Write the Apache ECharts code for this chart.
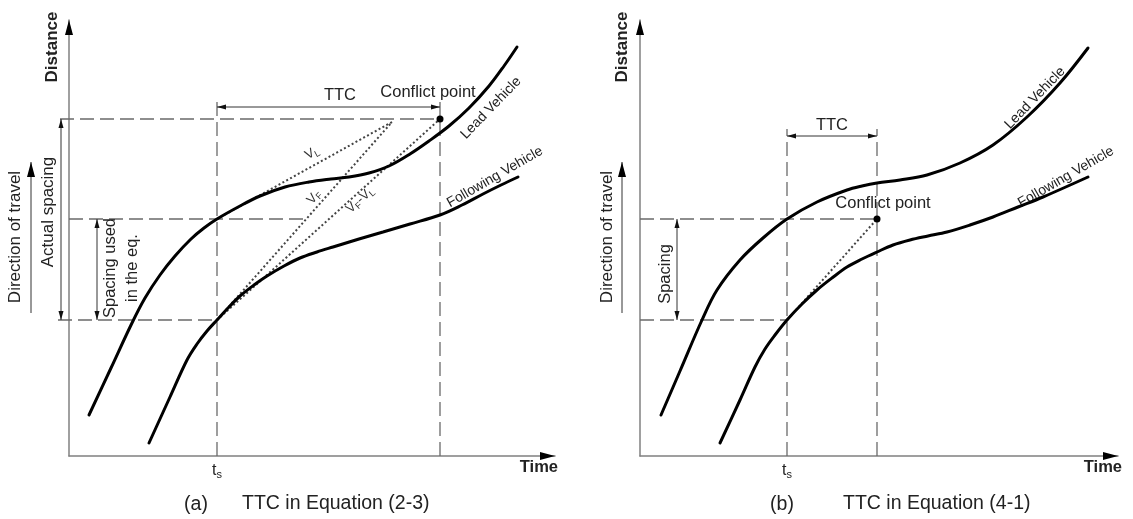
<!DOCTYPE html>
<html><head><meta charset="utf-8">
<script src="https://cdn.jsdelivr.net/npm/echarts@6/dist/echarts.min.js"></script>
<style>html,body{margin:0;padding:0;background:#fff}#c{width:1133px;height:519px}</style>
</head><body><div id="c"></div>
<script>
// ---------- values (arbitrary time / distance units) ----------
const xMaxA = 486, xMaxB = 478, yMax = 436;

// Panel (a)
const leadA = [[20,41],[42,88],[63,133],[76,158],[91,181],[106,200],[122,217],[135,228],[148,237],[171,250],[191,260],[216,269],[240,274],[262,277],[280,279],[300,283],[320,290],[341,302],[360,315],[380,330],[400,348],[420,370],[435,390],[448,409]];
const followA = [[80,13],[101,59],[118,96],[128,112],[138,125],[148,136],[160,149],[171,160],[185,171],[198,180],[215,190],[231,198],[248,204],[264,209],[290,217],[314,224],[341,232],[371,241],[393,251],[414,262],[432,271],[449,279]];
const tsA = [148];
const conflictA = [371, 337];
const dashedA = [[[-9,337],[371,337]], [[0,237],[234,237]], [[-11,136],[148,136]], [[148,0],[148,355]], [[371,0],[371,355]]];
const dottedA = [[[148,237],[323,334]], [[148,136],[323,334]], [[148,136],[371,337]]];
const dimsA = [[[148,349],[371,349]], [[-8,337],[-8,136]], [[28,237],[28,136]]];
const travelA = [[-38,143],[-38,294]];

// Panel (b)
const leadB = [[21,41],[40,85],[62,136],[77,166],[100,196],[123,218],[147,237],[177,254],[207,266],[222,270],[237,273],[260,276],[287,281],[320,293],[353,311],[387,339],[420,373],[448,408]];
const followB = [[80,13],[100,56],[115,89],[125,107],[135,121],[147,136],[162,152],[177,166],[192,178],[207,189],[222,197],[237,204],[253,211],[270,216],[288,220],[307,224],[330,231],[353,239],[378,249],[403,259],[448,279]];
const tsB = [147];
const conflictB = [237, 237];
const dashedB = [[[0,237],[237,237]], [[0,136],[147,136]], [[147,0],[147,327]], [[237,0],[237,327]]];
const dottedB = [[[147,136],[237,237]]];
const dimsB = [[[147,320],[237,320]], [[37,237],[37,136]]];
const travelB = [[-18,143],[-18,294]];

// text labels: [anchor, text]
const labelsA = {
  ttc: [[271,361], 'TTC'],
  conflict: [[359,364], 'Conflict point'],
  vl: [[243,303], '{v|V}{s|L}'],
  vf: [[245,259], '{v|V}{s|F}'],
  vfvl: [[291,256], '{v|V}{s|F}{v|-V}{s|L}'],
  lead: [[422,348], 'Lead Vehicle'],
  follow: [[426,279], 'Following Vehicle'],
  distance: [[-17,409], 'Distance'],
  time: [[489,-11], 'Time'],
  travel: [[-54,219], 'Direction of travel'],
  actual: [[-21,244], 'Actual spacing'],
  spacing: [[52,188], 'Spacing used\nin the eq.'],
  tag: [[127,-49], '(a)'],
  caption: [[173,-48], 'TTC in Equation (2-3)']
};
const labelsB = {
  ttc: [[192,331], 'TTC'],
  conflict: [[243,253], 'Conflict point'],
  lead: [[395,358], 'Lead Vehicle'],
  follow: [[426,279], 'Following Vehicle'],
  distance: [[-18,409], 'Distance'],
  time: [[482,-11], 'Time'],
  travel: [[-33,219], 'Direction of travel'],
  spacing: [[25,182], 'Spacing'],
  tag: [[142,-49], '(b)'],
  caption: [[203,-48], 'TTC in Equation (4-1)']
};

// ---------- drawing ----------
const FONT = '"Liberation Sans", Arial, Helvetica, sans-serif';
const styleOf = {
  ttc: {size:16.5}, conflict: {size:16.5}, vl:{rot:29}, vf:{rot:48}, vfvl:{rot:42},
  lead:{size:14, rot:46}, follow:{size:14, rot:30}, distance:{size:17, rot:90, bold:true},
  time:{size:16.5, bold:true, align:'right'}, travel:{size:17, rot:90}, actual:{size:17, rot:90},
  spacing:{size:16.5, rot:90, lh:22}, tag:{size:19.5}, caption:{size:19.5, align:'left'}
};
const vRich = {
  v: {fontSize: 13, fontFamily: FONT, fill: '#333'},
  s: {fontSize: 9, fontFamily: FONT, fill: '#333', padding: [7,0,0,0]}
};

function seg(api, p, q, style) {
  const a = api.coord(p), b = api.coord(q);
  return {type:'line', shape:{x1:a[0], y1:a[1], x2:b[0], y2:b[1]}, style: style};
}
function head(api, tip, from, len, half, fill) {
  const t = api.coord(tip), f = api.coord(from);
  const dx = t[0]-f[0], dy = t[1]-f[1], L = Math.hypot(dx, dy);
  const ux = dx/L, uy = dy/L;
  const bx = t[0]-ux*len, by = t[1]-uy*len;
  return {type:'polygon', shape:{points:[[t[0],t[1]],[bx-uy*half, by+ux*half],[bx+uy*half, by-ux*half]]}, style:{fill: fill}};
}
function txt(api, key, entry) {
  const o = styleOf[key] || {};
  const p = api.coord(entry[0]);
  const st = {
    text: entry[1], fill: '#222', fontSize: o.size || 13, fontFamily: FONT,
    fontWeight: o.bold ? 'bold' : 'normal', align: o.align || 'center', verticalAlign: 'middle'
  };
  if (o.lh) st.lineHeight = o.lh;
  if (entry[1].indexOf('{') === 0) st.rich = vRich;
  return {type:'text', x:p[0], y:p[1], rotation:(o.rot||0)*Math.PI/180, style: st};
}

function panel(dashed, dotted, dims, travel, conflict, labels, xMax) {
  return function (params, api) {
    const ch = [];
    dashed.forEach(s => ch.push(seg(api, s[0], s[1], {stroke:'#6a6a6a', lineWidth:1.3, lineDash:[14,6]})));
    dotted.forEach(s => ch.push(seg(api, s[0], s[1], {stroke:'#444', lineWidth:2, lineDash:[2,2.4]})));
    dims.forEach(s => {
      ch.push(seg(api, s[0], s[1], {stroke:'#333', lineWidth:1}));
      ch.push(head(api, s[0], s[1], 9, 2.5, '#111'));
      ch.push(head(api, s[1], s[0], 9, 2.5, '#111'));
    });
    ch.push(seg(api, travel[0], travel[1], {stroke:'#333', lineWidth:1}));
    ch.push(head(api, travel[1], travel[0], 15, 4, '#000'));
    // axis arrowheads
    ch.push(head(api, [xMax,0], [0,0], 15, 4, '#000'));
    ch.push(head(api, [0,yMax], [0,0], 15, 4, '#000'));
    const c = api.coord(conflict);
    ch.push({type:'circle', shape:{cx:c[0], cy:c[1], r:3.5}, style:{fill:'#000'}});
    Object.keys(labels).forEach(k => ch.push(txt(api, k, labels[k])));
    return {type:'group', children: ch};
  };
}

function xAx(gi, max, ts) {
  return {
    type:'value', gridIndex:gi, min:0, max:max,
    axisLine:{show:true, onZero:false, lineStyle:{color:'#808080', width:1.5}},
    axisTick:{show:false}, splitLine:{show:false},
    axisLabel:{show:true, customValues: ts, margin:5, formatter: () => '{t|t}{s|s}',
      rich:{t:{fontSize:16, fontFamily:FONT, color:'#222'}, s:{fontSize:11, fontFamily:FONT, color:'#222', padding:[8,0,0,0]}}}
  };
}
function yAx(gi) {
  return {
    type:'value', gridIndex:gi, min:0, max:yMax,
    axisLine:{show:true, onZero:false, lineStyle:{color:'#808080', width:1.5}},
    axisTick:{show:false}, splitLine:{show:false}, axisLabel:{show:false}
  };
}
function curve(data, gi) {
  return {type:'line', xAxisIndex:gi, yAxisIndex:gi, data:data, smooth:0.35,
    symbol:'none', silent:true, lineStyle:{color:'#000', width:3, cap:'round'}, z:3};
}

const chart = echarts.init(document.getElementById('c'));
chart.setOption({
  animation:false,
  backgroundColor:'#fff',
  grid:[
    {left:69, top:20, width:xMaxA, height:yMax},
    {left:640, top:20, width:xMaxB, height:yMax}
  ],
  xAxis:[xAx(0, xMaxA, tsA), xAx(1, xMaxB, tsB)],
  yAxis:[yAx(0), yAx(1)],
  series:[
    curve(leadA, 0), curve(followA, 0), curve(leadB, 1), curve(followB, 1),
    {type:'custom', xAxisIndex:0, yAxisIndex:0, clip:false, silent:true, data:[[0,0]], z:2,
      renderItem: panel(dashedA, dottedA, dimsA, travelA, conflictA, labelsA, xMaxA)},
    {type:'custom', xAxisIndex:1, yAxisIndex:1, clip:false, silent:true, data:[[0,0]], z:2,
      renderItem: panel(dashedB, dottedB, dimsB, travelB, conflictB, labelsB, xMaxB)}
  ]
});
</script></body></html>
